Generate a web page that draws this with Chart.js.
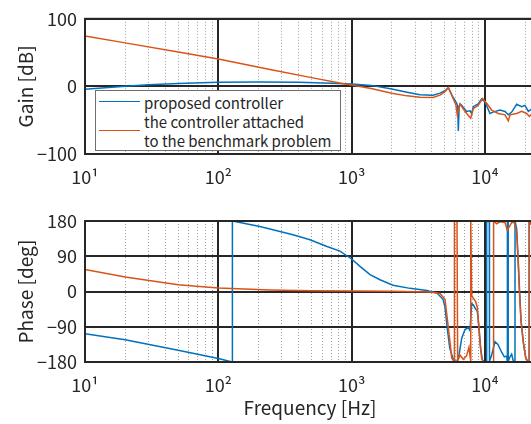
<!DOCTYPE html>
<html><head><meta charset="utf-8">
<script src="https://cdn.jsdelivr.net/npm/chart.js@4"></script>
<style>
html,body{margin:0;padding:0;background:#fff;overflow:hidden;width:531px;height:424px;}
#wrap{position:relative;width:531px;height:424px;overflow:hidden;background:#fff;}
canvas{position:absolute;left:0;}
#c1{top:0;}
#c2{top:200px;}
#legend{position:absolute;left:95px;top:90px;width:244px;height:59px;border:1px solid #6f6f6f;background:#fff;font-family:"Noto Sans CJK JP";font-size:15px;color:#262626;}
#legend .ln{position:absolute;left:3px;width:41px;height:0;border-top:1.5px solid;}
#legend .tx{position:absolute;left:48px;white-space:nowrap;line-height:19px;}
</style></head>
<body><div id="wrap">
<canvas id="c1" width="540" height="200"></canvas>
<canvas id="c2" width="540" height="224"></canvas>
<div id="legend"></div>
</div>
<script>
// ---- data ----
const seriesNames = ['proposed controller', 'the controller attached\nto the benchmark problem'];
const seriesColors = ['#0072BD', '#D95319'];

const gainFreqBlue = [10,15,20,30,50,100,200,400,700,1000,1400,2000,2600,3254,4074,4597,5012,5309,5757,6131,6250,6306,6400,6494,6683,7281,7718,7943,8166,8893,9441,10000,10902,11482,12957,14125,14962,15849,17283,18836,19953,21135,22130,23714];
const gainBlue = [-4.4,-1.5,0.4,2.5,4.2,6,6.5,6.2,4.8,3.7,1.5,-4,-8.5,-12.5,-13,-10,-6.5,-2,-16,-25,-30,-66,-30,-26,-28,-37,-36,-40,-30,-26,-18.5,-23,-40,-38,-35,-37,-42,-38,-26.5,-30,-28,-37,-34,-34];

const gainFreqOrange = [10,20,50,100,244,500,812,1000,1400,2000,2600,3254,4074,4597,5012,5309,5757,6061,6194,6494,6871,7281,7812,8166,8893,9597,10292,11220,12574,14125,14962,15399,17283,18836,20535,21500,22130,23714];
const gainOrange = [74.6,64.4,51,40.6,25,13,5,2,-3,-10,-14,-16,-16.5,-13,-8,-1.5,-17.5,-28,-42,-26,-33,-40,-47,-33,-28,-18,-25,-35,-40,-42,-51,-42,-40,-37,-40,-44.5,-42,-42];

const phaseFreqBlue = [10,20,50,100,127,127.5,205,363,487,653,817,1000,1155,1373,1631,2042,2738,3673,4365,4842,5012,5200,5450,5800,6131,6383,6683,7079,7499,7718,7943,8166,8507,8750,9016,9280,9550,9886,10230,10292,10770,10800,10902,11220,11885,12500,13335,13964,14537,14693,14720,14900,14930,15399,15849,16313,16788,16800,17283,17783,18621,19387,20184,20893,21400,21450,22130,23714];
const phaseBlue = [-108,-123,-150,-171,-180,180,166,145,132,115,103,83,64,43,30,16,8,2.5,-4,-20,-40,-92,-146,-174,-180,-162,-120,-97,-92,-100,-31,-34,-45,-50,-92,-146,-174,-179.5,-180,180,178,-178,-175,-162,-128,-135,-155,-167,-165,-180,180,178,-178,-167,-160,-178,-180,180,160,70,-74,-130,-168,-178,-180,180,172,170];

const phaseFreqOrange = [10,20,50,100,244,500,1000,2000,3868,4597,5012,5309,5534,5623,5883,5900,6166,6237,6494,6871,7281,7586,7718,7812,7830,7943,8166,8507,8750,8913,9173,9441,9705,11560,11600,12234,12957,14125,14693,15200,15849,16596,17283,17783,18100,18621,19387,20184,20893,21400,21450,22130,23714];
const phaseOrange = [56,37,17,9,4,2,1,0.5,-1,-5,-20,-92,-146,-170,-180,180,178,-178,-162,-173,-164,-142,-165,-178,180,-10,-17,-26,-40,-74,-130,-170,-180,-179,180,173,178,176,156,165,176,176,151,68,2,-74,-130,-168,-180,-180,180,172,170];

const xMin = 10, xMax = 23714;
const xDecades = [10, 100, 1000, 10000];
const xDecadeLabels = ['10\u00B9', '10\u00B2', '10\u00B3', '10\u2074'];
const gainTicks = [-100, 0, 100];
const phaseTicks = [-180, -90, 0, 90, 180];
const gainTitle = 'Gain [dB]';
const phaseTitle = 'Phase [deg]';
const freqTitle = 'Frequency [Hz]';

// ---- helpers ----
const FONT = '"Noto Sans CJK JP", "Noto Sans", sans-serif';
const TXT = '#262626';
function pts(xs, ys){ return xs.map((x,i)=>({x:x, y:ys[i]})); }
function minorTicks(){
  const out = [];
  for (let d = 10; d <= xMax; d *= 10) {
    for (let k = 1; k <= 9; k++) { const v = d*k; if (v >= xMin && v <= xMax) out.push({value:v}); }
  }
  return out;
}
function isMajor(v){ return xDecades.some(d => Math.abs(d - v) < 1e-6 * d); }
function fmtNum(v){ return v < 0 ? '\u2212' + Math.abs(v) : String(v); }

const framePlugin = {
  id: 'frame',
  afterDraw(chart){
    const a = chart.chartArea, c = chart.ctx;
    c.save(); c.strokeStyle = TXT; c.lineWidth = 2;
    c.strokeRect(a.left, a.top, a.right - a.left, a.bottom - a.top);
    c.restore();
  }
};

function makeChart(id, blueX, blueY, orangeX, orangeY, yTicks, yTitle, padTop, xAxisH, showXTitle){
  const yMin = yTicks[0], yMax = yTicks[yTicks.length-1];
  return new Chart(document.getElementById(id), {
    type: 'line',
    data: { datasets: [
      { label: seriesNames[1], data: pts(orangeX, orangeY), borderColor: seriesColors[1], borderWidth: 1.5, pointRadius: 0, tension: 0, order: 0 },
      { label: seriesNames[0], data: pts(blueX, blueY), borderColor: seriesColors[0], borderWidth: 1.5, pointRadius: 0, tension: 0, order: 1 }
    ]},
    options: {
      responsive: false, animation: false, devicePixelRatio: 1,
      layout: { padding: { top: padTop, right: 5, left: 0, bottom: 0 } },
      plugins: { legend: { display: false }, tooltip: { enabled: false } },
      scales: {
        x: {
          type: 'logarithmic', min: xMin, max: xMax,
          afterBuildTicks(s){ s.ticks = minorTicks(); },
          afterFit(s){ s.height = xAxisH; },
          ticks: { autoSkip: false, maxRotation: 0, padding: 12, color: TXT, font: { family: FONT, size: 18 },
            callback(v){ const i = xDecades.findIndex(d => Math.abs(d - v) < 1e-6 * d); return i >= 0 ? xDecadeLabels[i] : ''; } },
          grid: { drawTicks: false,
            color: ctx => (ctx.tick && isMajor(ctx.tick.value)) ? TXT : '#a0a0a0',
            lineWidth: ctx => (ctx.tick && isMajor(ctx.tick.value)) ? 2 : 1 },
          border: { display: false, dash: ctx => (ctx.tick && !isMajor(ctx.tick.value)) ? [1,2] : [] },
          title: { display: showXTitle, text: freqTitle, color: TXT, font: { family: FONT, size: 19 }, padding: { top: 0, bottom: 5 } }
        },
        y: {
          min: yMin, max: yMax,
          afterBuildTicks(s){ s.ticks = yTicks.map(v => ({value: v})); },
          afterFit(s){ s.width = 85; },
          ticks: { padding: 8, color: TXT, font: { family: FONT, size: 18 }, callback: v => fmtNum(v) },
          grid: { drawTicks: false, color: TXT, lineWidth: 2 },
          border: { display: false },
          title: { display: true, text: yTitle, color: TXT, font: { family: FONT, size: 19 }, padding: { top: 14, bottom: 0 } }
        }
      }
    },
    plugins: [framePlugin]
  });
}

makeChart('c1', gainFreqBlue, gainBlue, gainFreqOrange, gainOrange, gainTicks, gainTitle, 13, 46, false);
makeChart('c2', phaseFreqBlue, phaseBlue, phaseFreqOrange, phaseOrange, phaseTicks, phaseTitle, 21, 62, true);

// ---- legend (HTML overlay) ----
const lg = document.getElementById('legend');
const lineTops = [10, 39];
const textTops = [2, 21];
seriesNames.forEach((name, i) => {
  const ln = document.createElement('div'); ln.className = 'ln';
  ln.style.top = lineTops[i] + 'px'; ln.style.borderTopColor = seriesColors[i];
  lg.appendChild(ln);
  const tx = document.createElement('div'); tx.className = 'tx';
  tx.style.top = textTops[i] + 'px';
  tx.innerHTML = name.split('\n').map(s => s.replace(/&/g,'&amp;').replace(/</g,'&lt;')).join('<br>');
  lg.appendChild(tx);
});
</script>
</body></html>
